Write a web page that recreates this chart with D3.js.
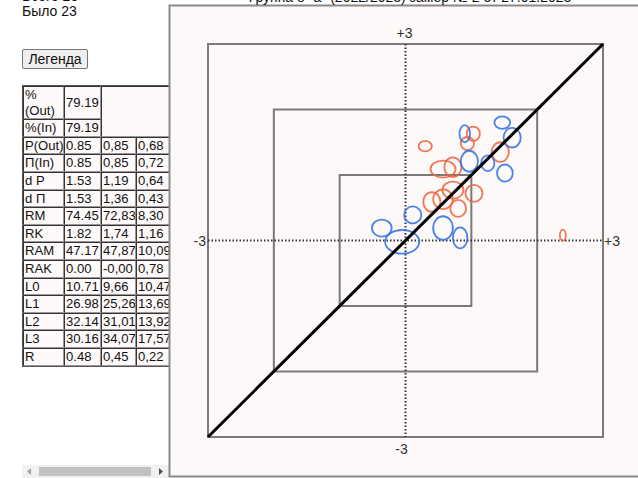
<!DOCTYPE html>
<html>
<head>
<meta charset="utf-8">
<script src="https://cdn.jsdelivr.net/npm/d3@7"></script>
<style>
body { margin: 0; background: #fff; font-family: Arial, "Liberation Sans", sans-serif; font-size: 14px; color: #111; overflow: hidden; }
#info { position: absolute; left: 22px; top: -11px; line-height: 15px; }
#legend { position: absolute; left: 22px; top: 49px; width: 66px; height: 20px; padding: 0; font: 14px Arial, "Liberation Sans", sans-serif;
  background: #efefef; border: 1px solid #767676; border-radius: 2px; color: #111; }
#tbl { position: absolute; left: 22px; top: 85px; table-layout: fixed; width: 192px; border-collapse: separate; border-spacing: 0;
  border: 1px solid #555; background: #fdf9f9; font-size: 13.1px; }
#tbl td { border: 1px solid; border-color: #333 #999 #999 #333; padding: 0 0 0 1px; line-height: 15.6px; white-space: nowrap;
  overflow: hidden; vertical-align: middle; }
#tbl td.lab { white-space: normal; }
#sb { position: absolute; left: 22px; top: 465px; width: 147px; height: 13px; background: #f1f1f1; }
#thumb { position: absolute; left: 17px; top: 2px; width: 112px; height: 9px; background: #c1c1c1; }
svg { position: absolute; left: 0; top: 0; }
</style>
</head>
<body>
<div id="info">Всего 23<br>Было 23</div>
<button id="legend">Легенда</button>
<table id="tbl">
<colgroup><col style="width:41px"><col style="width:37px"><col style="width:35px"><col style="width:79px"></colgroup>
</table>
<div id="sb"><div id="thumb"></div></div>
<svg id="chart" width="638" height="478"></svg>
<script>
var title = 'Группа 8 "а" (2022/2023) замер № 2 от 27.01.2023';

var topLabels = ['%\n(Out)', '%(In)'];
var topValues = ['79.19', '79.19'];

var rowLabels = ['P(Out)', 'П(In)', 'd P', 'd П', 'RM', 'RK', 'RAM', 'RAK', 'L0', 'L1', 'L2', 'L3', 'R'];
var col1 = ['0.85', '0.85', '1.53', '1.53', '74.45', '1.82', '47.17', '0.00', '10.71', '26.98', '32.14', '30.16', '0.48'];
var col2 = ['0,85', '0,85', '1,19', '1,36', '72,83', '1,74', '47,87', '-0,00', '9,66', '25,26', '31,01', '34,07', '0,45'];
var col3 = ['0,68', '0,72', '0,64', '0,43', '8,30', '1,16', '10,09', '0,78', '10,47', '13,69', '13,92', '17,57', '0,22'];

// ellipses: centre and radii in scale units
var blueX  = [1.47, 1.62, 0.90, 0.97, 1.25, 1.51, 0.11, 0.57, 0.83, -0.05, -0.36];
var blueY  = [1.80, 1.57, 1.63, 1.21, 1.18, 1.03, 0.39, 0.19, 0.04, -0.02, 0.19];
var blueRx = [0.12, 0.13, 0.08, 0.13, 0.10, 0.12, 0.13, 0.15, 0.11, 0.26, 0.15];
var blueRy = [0.095, 0.15, 0.13, 0.16, 0.12, 0.13, 0.13, 0.18, 0.16, 0.18, 0.13];

var redX  = [0.30, 1.03, 0.94, 1.44, 0.57, 0.72, 0.72, 1.04, 0.57, 0.40, 0.80, 2.39];
var redY  = [1.44, 1.63, 1.48, 1.35, 1.09, 1.12, 0.77, 0.72, 0.63, 0.59, 0.49, 0.08];
var redRx = [0.10, 0.10, 0.10, 0.13, 0.19, 0.13, 0.16, 0.13, 0.15, 0.13, 0.12, 0.045];
var redRy = [0.08, 0.11, 0.10, 0.15, 0.13, 0.15, 0.13, 0.13, 0.15, 0.15, 0.13, 0.085];

var squares = [3, 2, 1];

// table
var tbl = d3.select('#tbl');
topLabels.forEach(function (l, i) {
    var tr = tbl.append('tr');
    tr.append('td').attr('class', 'lab').html(l.replace('\n', '<br>'));
    tr.append('td').text(topValues[i]);
    if (i === 0) tr.append('td').attr('colspan', 2).attr('rowspan', 2);
});
rowLabels.forEach(function (l, i) {
    var tr = tbl.append('tr');
    tr.append('td').attr('class', 'lab').text(l);
    tr.append('td').text(col1[i]);
    tr.append('td').text(col2[i]);
    tr.append('td').text(col3[i]);
});

// chart
var svg = d3.select('#chart');
var x = d3.scaleLinear().domain([-3, 3]).range([208, 603]);
var y = d3.scaleLinear().domain([-3, 3]).range([437, 44]);

svg.append('rect')
    .attr('x', 169.5).attr('y', 5.5).attr('width', 480).attr('height', 471)
    .attr('fill', '#fcf9f8').attr('stroke', '#8a8a8a').attr('stroke-width', 2);

svg.append('text')
    .attr('x', 410).attr('y', 2)
    .attr('text-anchor', 'middle')
    .style('font', '14px Arial, "Liberation Sans", sans-serif')
    .attr('fill', '#111')
    .text(title);

svg.selectAll('.sq')
    .data(squares)
    .enter().append('rect')
    .attr('class', 'sq')
    .attr('x', function (d) { return x(-d); })
    .attr('y', function (d) { return y(d); })
    .attr('width', function (d) { return x(d) - x(-d); })
    .attr('height', function (d) { return y(-d) - y(d); })
    .attr('fill', 'none')
    .attr('stroke', '#7a7a7a')
    .attr('stroke-width', 2);

svg.append('line')
    .attr('x1', x(0)).attr('x2', x(0)).attr('y1', y(3)).attr('y2', y(-3))
    .attr('stroke', '#333').attr('stroke-width', 2).attr('stroke-dasharray', '1.5,2');
svg.append('line')
    .attr('x1', x(-3)).attr('x2', x(3)).attr('y1', y(0)).attr('y2', y(0))
    .attr('stroke', '#333').attr('stroke-width', 2).attr('stroke-dasharray', '1.5,2');

function drawEllipses(xs, ys, rxs, rys, color) {
    svg.append('g').selectAll('ellipse')
        .data(xs)
        .enter().append('ellipse')
        .attr('cx', function (d) { return x(d); })
        .attr('cy', function (d, i) { return y(ys[i]); })
        .attr('rx', function (d, i) { return x(rxs[i]) - x(0); })
        .attr('ry', function (d, i) { return y(0) - y(rys[i]); })
        .attr('fill', 'none')
        .attr('stroke', color)
        .attr('stroke-opacity', 0.85)
        .attr('stroke-width', 1.8);
}
drawEllipses(redX, redY, redRx, redRy, '#f0603c');
drawEllipses(blueX, blueY, blueRx, blueRy, '#2d6fe6');

svg.append('line')
    .attr('x1', x(-3)).attr('y1', y(-3)).attr('x2', x(3)).attr('y2', y(3))
    .attr('stroke', '#000').attr('stroke-width', 3);

function axisLabel(px, py, anchor, t) {
    svg.append('text').attr('x', px).attr('y', py).attr('text-anchor', anchor)
        .attr('dominant-baseline', 'central')
        .style('font', '14px Arial, "Liberation Sans", sans-serif').attr('fill', '#333').text(t);
}
axisLabel(x(0) - 1, y(3) - 11, 'middle', '+3');
axisLabel(x(0) - 4, y(-3) + 12, 'middle', '-3');
axisLabel(x(-3) - 2, y(0), 'end', '-3');
axisLabel(x(3) + 1, y(0), 'start', '+3');

// scrollbar arrows
svg.append('path').attr('d', 'M31,468 L27,471.5 L31,475 Z').attr('fill', '#a3a3a3');
svg.append('path').attr('d', 'M159,468 L163,471.5 L159,475 Z').attr('fill', '#505050');
</script>
</body>
</html>
